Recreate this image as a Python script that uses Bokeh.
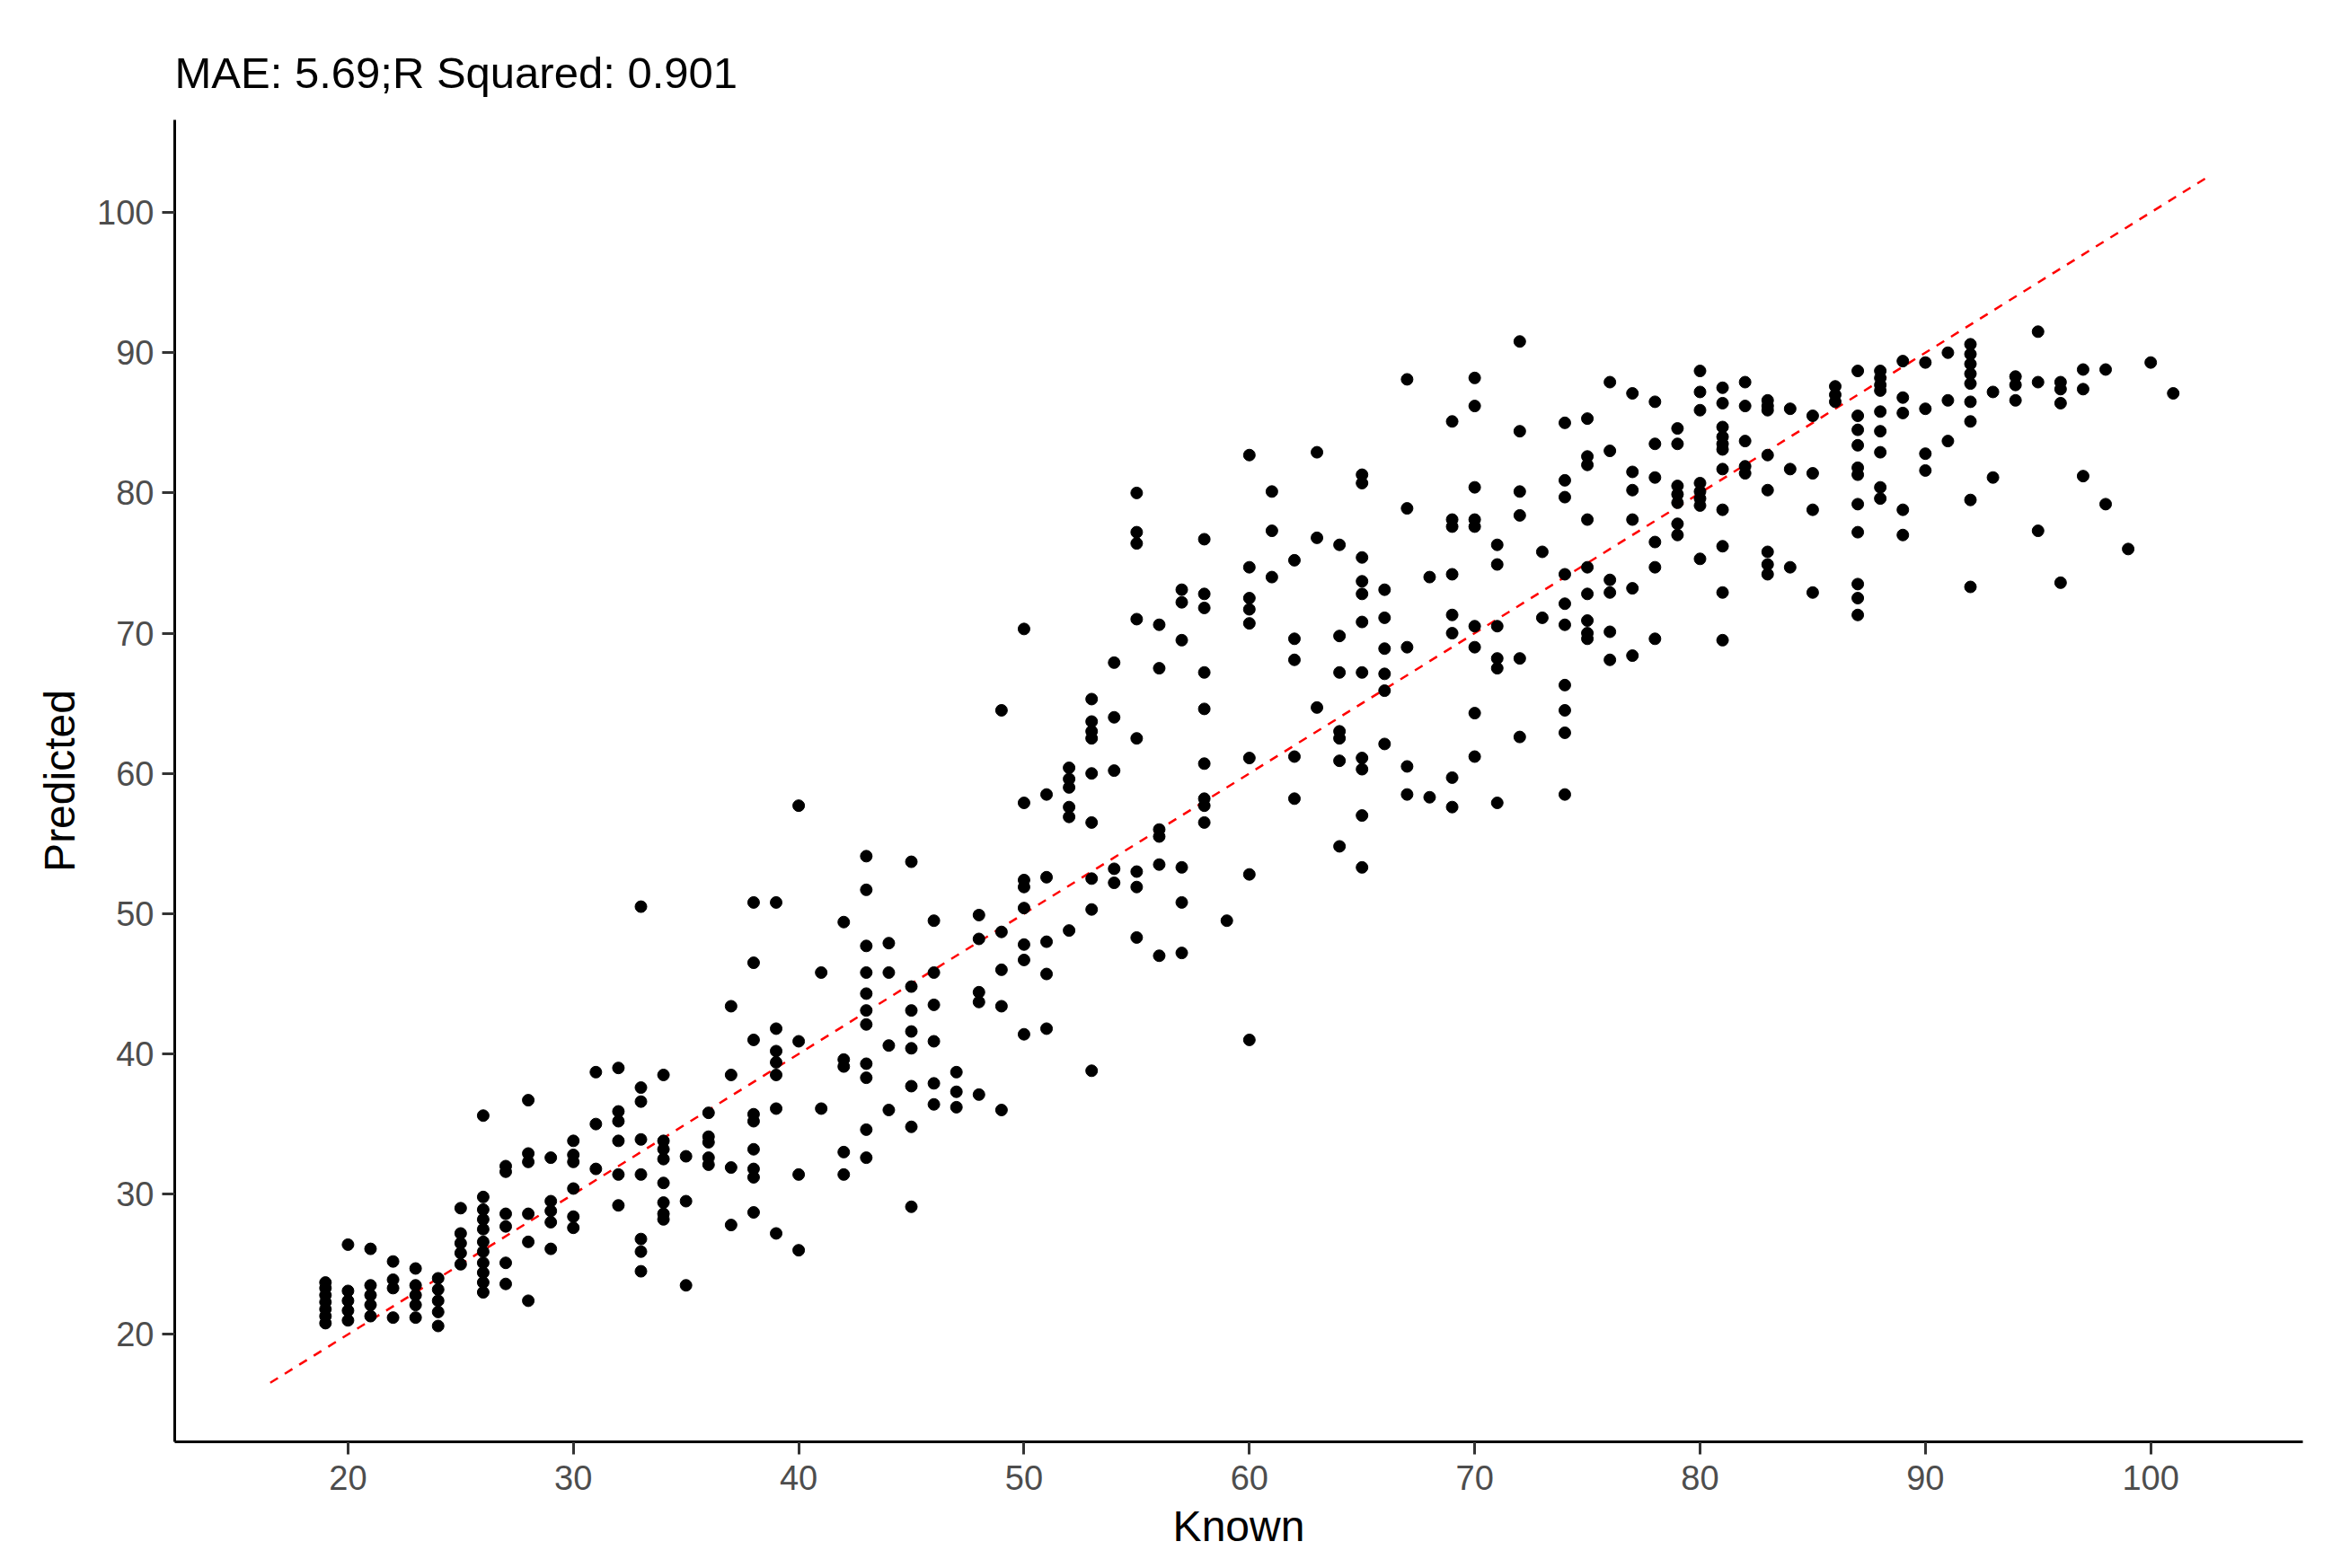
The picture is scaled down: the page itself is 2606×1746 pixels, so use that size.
from bokeh.plotting import figure
from bokeh.models import Range1d, FixedTicker
from bokeh.embed import file_html
from bokeh.resources import INLINE

# ---- data ----
known_values = list(range(19, 102))
predicted_by_known = [
    [20.8, 21.3, 21.8, 22.3, 22.8, 23.3, 23.7],           # 19
    [26.4, 23.1, 22.4, 21.7, 21.0],                       # 20
    [26.1, 23.5, 22.8, 22.1, 21.3],                       # 21
    [25.2, 23.9, 23.3, 21.2],                             # 22
    [24.7, 23.5, 22.8, 22.1, 21.2],                       # 23
    [24.0, 23.2, 22.4, 21.6, 20.6],                       # 24
    [29.0, 27.2, 26.5, 25.8, 25.0],                       # 25
    [35.6, 29.8, 28.9, 28.2, 27.5, 26.6, 25.9, 25.1, 24.4, 23.7, 23.0],  # 26
    [32.0, 31.6, 28.6, 27.7, 25.1, 23.6],                 # 27
    [36.7, 32.9, 32.3, 28.6, 26.6, 22.4],                 # 28
    [32.6, 29.5, 28.8, 28.0, 26.1],                       # 29
    [33.8, 32.8, 32.3, 30.4, 28.4, 27.6],                 # 30
    [38.7, 35.0, 31.8],                                   # 31
    [39.0, 35.9, 35.2, 33.8, 31.4, 29.2],                 # 32
    [50.5, 37.6, 36.6, 33.9, 31.4, 26.8, 25.9, 24.5],     # 33
    [38.5, 33.8, 33.2, 32.5, 30.8, 29.4, 28.6, 28.2],     # 34
    [32.7, 29.5, 23.5],                                   # 35
    [35.8, 34.1, 33.7, 32.6, 32.1],                       # 36
    [43.4, 38.5, 31.9, 27.8],                             # 37
    [50.8, 46.5, 41.0, 35.7, 35.2, 33.2, 31.8, 31.2, 28.7],  # 38
    [50.8, 41.8, 40.2, 39.4, 38.5, 36.1, 27.2],           # 39
    [57.7, 40.9, 31.4, 26.0],                             # 40
    [45.8, 36.1],                                         # 41
    [49.4, 39.6, 39.1, 33.0, 31.4],                       # 42
    [54.1, 51.7, 47.7, 45.8, 44.3, 43.1, 42.1, 39.3, 38.3, 34.6, 32.6],  # 43
    [47.9, 45.8, 40.6, 36.0],                             # 44
    [53.7, 44.8, 43.1, 41.6, 40.4, 37.7, 34.8, 29.1],     # 45
    [49.5, 45.8, 43.5, 40.9, 37.9, 36.4],                 # 46
    [38.7, 37.3, 36.2],                                   # 47
    [49.9, 48.2, 44.4, 43.7, 37.1],                       # 48
    [64.5, 48.7, 46.0, 43.4, 36.0],                       # 49
    [70.3, 57.9, 52.4, 51.9, 50.4, 47.8, 46.7, 41.4],     # 50
    [58.5, 52.6, 48.0, 45.7, 41.8],                       # 51
    [60.4, 59.6, 59.0, 57.6, 56.9, 48.8],                 # 52
    [65.3, 63.7, 63.0, 62.5, 60.0, 56.5, 52.5, 50.3, 38.8],  # 53
    [67.9, 64.0, 60.2, 53.2, 52.2],                       # 54
    [80.0, 77.2, 76.4, 71.0, 62.5, 53.0, 51.9, 48.3],     # 55
    [70.6, 67.5, 56.0, 55.5, 53.5, 47.0],                 # 56
    [73.1, 72.2, 69.5, 53.3, 50.8, 47.2],                 # 57
    [76.7, 72.8, 71.8, 67.2, 64.6, 60.7, 58.2, 57.7, 56.5],  # 58
    [49.5],                                               # 59
    [82.7, 74.7, 72.5, 71.7, 70.7, 61.1, 52.8, 41.0],     # 60
    [80.1, 77.3, 74.0],                                   # 61
    [75.2, 69.6, 68.1, 61.2, 58.2],                       # 62
    [82.9, 76.8, 64.7],                                   # 63
    [76.3, 69.8, 67.2, 63.0, 62.5, 60.9, 54.8],           # 64
    [81.3, 80.7, 75.4, 73.7, 72.8, 70.8, 67.2, 61.1, 60.3, 57.0, 53.3],  # 65
    [73.1, 71.1, 68.9, 67.1, 65.9, 62.1],                 # 66
    [88.1, 78.9, 69.0, 60.5, 58.5],                       # 67
    [74.0, 58.3],                                         # 68
    [85.1, 78.1, 77.6, 74.2, 71.3, 70.0, 59.7, 57.6],     # 69
    [88.2, 86.2, 80.4, 78.1, 77.6, 70.5, 69.0, 64.3, 61.2],  # 70
    [76.3, 74.9, 70.5, 68.2, 67.5, 57.9],                 # 71
    [90.8, 84.4, 80.1, 78.4, 68.2, 62.6],                 # 72
    [75.8, 71.1],                                         # 73
    [85.0, 80.9, 79.7, 74.2, 72.1, 70.6, 66.3, 64.5, 62.9, 58.5],  # 74
    [85.3, 82.6, 82.0, 78.1, 74.7, 72.8, 70.9, 70.0, 69.6],  # 75
    [87.9, 83.0, 73.8, 72.9, 70.1, 68.1],                 # 76
    [87.1, 81.5, 80.2, 78.1, 73.2, 68.4],                 # 77
    [86.5, 83.5, 81.1, 76.5, 74.7, 69.6],                 # 78
    [84.6, 83.5, 80.5, 79.9, 79.3, 77.8, 77.0],           # 79
    [88.7, 87.2, 85.9, 80.7, 80.1, 79.6, 79.1, 75.3],     # 80
    [87.5, 86.4, 84.7, 84.0, 83.5, 83.1, 81.7, 78.8, 76.2, 72.9, 69.5],  # 81
    [87.9, 86.2, 83.7, 81.9, 81.4],                       # 82
    [86.6, 86.2, 85.9, 82.7, 80.2, 75.8, 74.9, 74.2],     # 83
    [86.0, 81.7, 74.7],                                   # 84
    [85.5, 81.4, 78.8, 72.9],                             # 85
    [87.6, 87.0, 86.5],                                   # 86
    [88.7, 85.5, 84.5, 83.4, 81.8, 81.3, 79.2, 77.2, 73.5, 72.5, 71.3],  # 87
    [88.7, 88.2, 87.7, 87.3, 85.8, 84.4, 82.9, 80.4, 79.6],  # 88
    [89.4, 86.8, 85.7, 78.8, 77.0],                       # 89
    [89.3, 86.0, 82.8, 81.6],                             # 90
    [90.0, 86.6, 83.7],                                   # 91
    [90.6, 89.9, 89.2, 88.5, 87.8, 86.5, 85.1, 79.5, 73.3],  # 92
    [87.2, 81.1],                                         # 93
    [88.3, 87.7, 86.6],                                   # 94
    [91.5, 87.9, 77.3],                                   # 95
    [87.9, 87.4, 86.4, 73.6],                             # 96
    [88.8, 87.4, 81.2],                                   # 97
    [88.8, 79.2],                                         # 98
    [76.0],                                               # 99
    [89.3],                                               # 100
    [87.1],                                               # 101
]
identity_line = [16.55, 102.6]   # extent of the y = x reference line
tick_values = [20, 30, 40, 50, 60, 70, 80, 90, 100]
title_text = "MAE: 5.69;R Squared: 0.901"

known = []
predicted = []
for k, ys in zip(known_values, predicted_by_known):
    for y in ys:
        known.append(k)
        predicted.append(y)

FONT = "Liberation Sans"

p = figure(width=2598, height=1738, output_backend="svg", toolbar_location=None,
           x_range=Range1d(12.31, 106.75), y_range=Range1d(12.34, 106.6),
           min_border_left=194, min_border_right=35, min_border_top=133,
           min_border_bottom=133)

p.outline_line_color = None
p.xgrid.visible = False
p.ygrid.visible = False
p.background_fill_color = "white"
p.border_fill_color = "white"

p.title.text = title_text
p.title.text_font = FONT
p.title.text_font_size = "49px"
p.title.text_font_style = "normal"
p.title.text_color = "black"
p.title.align = "left"
p.title.standoff = 52

for ax in (p.xaxis[0], p.yaxis[0]):
    ax.ticker = FixedTicker(ticks=tick_values)
    ax.axis_line_width = 3
    ax.axis_line_color = "black"
    ax.major_tick_line_width = 3
    ax.major_tick_line_color = "#333333"
    ax.major_tick_out = 14
    ax.major_tick_in = 0
    ax.minor_tick_line_color = None
    ax.major_label_text_font = FONT
    ax.major_label_text_font_size = "38px"
    ax.major_label_text_color = "#4D4D4D"
    ax.axis_label_text_font = FONT
    ax.axis_label_text_font_size = "48px"
    ax.axis_label_text_font_style = "normal"
    ax.axis_label_text_color = "black"

p.xaxis.axis_label = "Known"
p.yaxis.axis_label = "Predicted"
p.xaxis.major_label_standoff = 12
p.yaxis.major_label_standoff = 9
p.xaxis.axis_label_standoff = 11
p.yaxis.axis_label_standoff = 12

p.line(identity_line, identity_line, line_color="#FF0000", line_width=2.5,
       line_dash="10 9")
p.scatter(known, predicted, size=13, marker="circle", fill_color="black",
          line_color="black")

open("out.html", "w").write(file_html(p, INLINE))
